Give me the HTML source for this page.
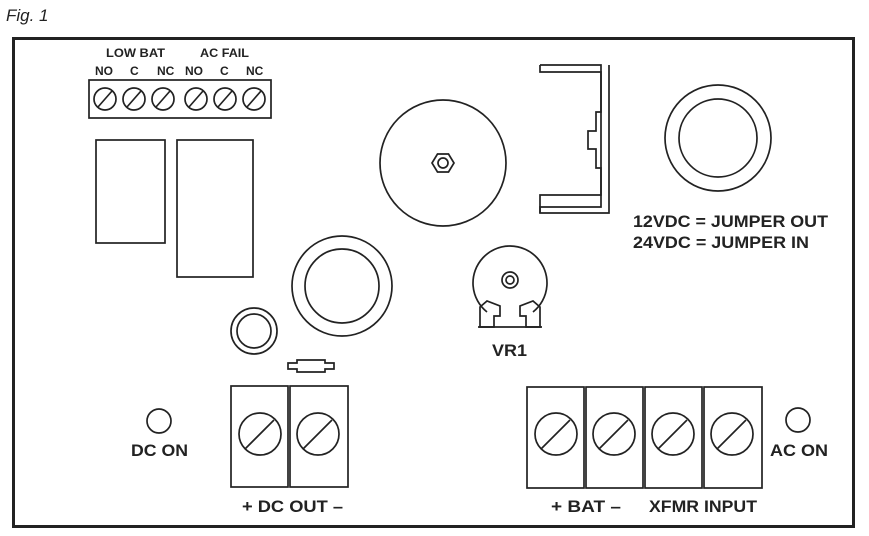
<!DOCTYPE html>
<html><head><meta charset="utf-8"><style>
html,body{margin:0;padding:0;background:#fff;}
svg{display:block;}
text{font-family:"Liberation Sans",Arial,sans-serif;font-weight:bold;fill:#222;}
</style></head><body>
<svg width="869" height="536" viewBox="0 0 869 536" xmlns="http://www.w3.org/2000/svg">
<text x="6" y="21" style="font-weight:normal;font-style:italic;font-size:17px">Fig. 1</text>
<rect x="13.5" y="38.5" width="840" height="488" fill="none" stroke="#222" stroke-width="3"/>
<g fill="none" stroke="#222" stroke-width="1.7">
<rect x="89" y="80" width="182" height="38"/>
<circle cx="105" cy="99" r="11"/><line x1="98" y1="107" x2="112" y2="91"/>
<circle cx="134" cy="99" r="11"/><line x1="127" y1="107" x2="141" y2="91"/>
<circle cx="163" cy="99" r="11"/><line x1="156" y1="107" x2="170" y2="91"/>
<circle cx="196" cy="99" r="11"/><line x1="189" y1="107" x2="203" y2="91"/>
<circle cx="225" cy="99" r="11"/><line x1="218" y1="107" x2="232" y2="91"/>
<circle cx="254" cy="99" r="11"/><line x1="247" y1="107" x2="261" y2="91"/>
<rect x="96" y="140" width="69" height="103"/>
<rect x="177" y="140" width="76" height="137"/>
<circle cx="443" cy="163" r="63"/>
<polygon points="432,163 437.5,154 448.5,154 454,163 448.5,172 437.5,172"/>
<circle cx="443" cy="163" r="5"/>
<path d="M540,65 H601 V195 H540 V213 H609 V65" />
<path d="M540,65 V72 H601 V112 H596 V131 H588 V149 H596 V168 H601 V207 H540 V213"/>
<circle cx="718" cy="138" r="53"/>
<circle cx="718" cy="138" r="39"/>
<circle cx="342" cy="286" r="50"/>
<circle cx="342" cy="286" r="37"/>
<circle cx="254" cy="331" r="23"/>
<circle cx="254" cy="331" r="17"/>
<path d="M288,363 H297 V360 H325 V363 H334 V369 H325 V372 H297 V369 H288 Z"/>
<path d="M487,312 A37,37 0 1 1 533,312"/>
<circle cx="510" cy="280" r="8"/><circle cx="510" cy="280" r="4"/>
<path d="M480,327 V307 L487,301 L500,306 V316 H494 V327 Z"/>
<path d="M540,327 V307 L533,301 L520,306 V316 H526 V327 Z"/>
<line x1="478" y1="327" x2="542" y2="327"/>
<circle cx="159" cy="421" r="12"/>
<circle cx="798" cy="420" r="12"/>
<rect x="231" y="386" width="57" height="101"/>
<rect x="290" y="386" width="58" height="101"/>
<circle cx="260" cy="434" r="21"/><line x1="245" y1="449" x2="274" y2="420"/>
<circle cx="318" cy="434" r="21"/><line x1="303" y1="449" x2="332" y2="420"/>
<rect x="527" y="387" width="57" height="101"/>
<rect x="586" y="387" width="57" height="101"/>
<rect x="645" y="387" width="57" height="101"/>
<rect x="704" y="387" width="58" height="101"/>
<circle cx="556" cy="434" r="21"/><line x1="541" y1="449" x2="570" y2="420"/>
<circle cx="614" cy="434" r="21"/><line x1="599" y1="449" x2="628" y2="420"/>
<circle cx="673" cy="434" r="21"/><line x1="658" y1="449" x2="687" y2="420"/>
<circle cx="732" cy="434" r="21"/><line x1="717" y1="449" x2="746" y2="420"/>
</g>
<g style="font-size:12px">
<text x="106" y="57" textLength="59" lengthAdjust="spacingAndGlyphs">LOW BAT</text>
<text x="200" y="57" textLength="49" lengthAdjust="spacingAndGlyphs">AC FAIL</text>
<text x="95" y="75">NO</text><text x="130" y="75">C</text><text x="157" y="75">NC</text>
<text x="185" y="75">NO</text><text x="220" y="75">C</text><text x="246" y="75">NC</text>
</g>
<g style="font-size:17px">
<text x="633" y="227" textLength="195" lengthAdjust="spacingAndGlyphs">12VDC = JUMPER OUT</text>
<text x="633" y="248" textLength="176" lengthAdjust="spacingAndGlyphs">24VDC = JUMPER IN</text>
<text x="492" y="356" textLength="35" lengthAdjust="spacingAndGlyphs">VR1</text>
<text x="131" y="456" textLength="57" lengthAdjust="spacingAndGlyphs">DC ON</text>
<text x="770" y="456" textLength="58" lengthAdjust="spacingAndGlyphs">AC ON</text>
<text x="242" y="512" textLength="101" lengthAdjust="spacingAndGlyphs">+ DC OUT –</text>
<text x="551" y="512" textLength="70" lengthAdjust="spacingAndGlyphs">+ BAT –</text>
<text x="649" y="512" textLength="108" lengthAdjust="spacingAndGlyphs">XFMR INPUT</text>
</g>
</svg>
</body></html>
